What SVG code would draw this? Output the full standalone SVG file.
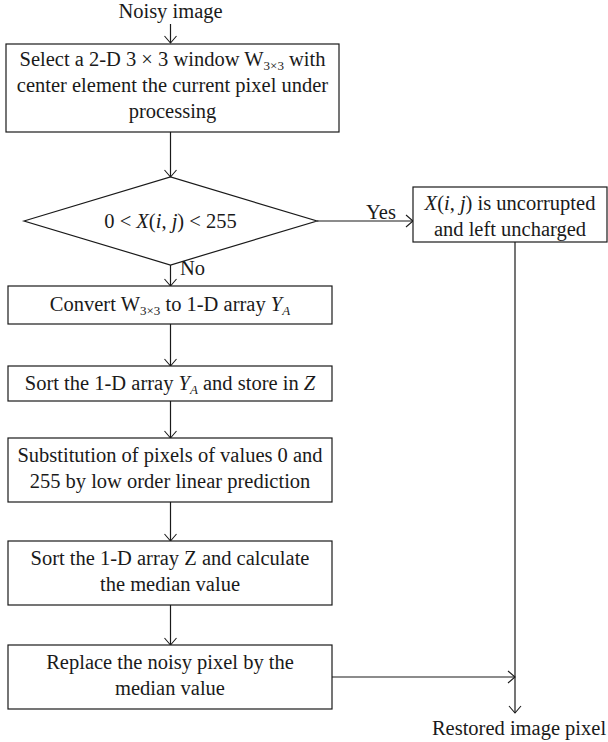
<svg xmlns="http://www.w3.org/2000/svg" width="608" height="742" viewBox="0 0 608 742">
<style>
text{font-family:"Liberation Serif","Times New Roman",serif;font-size:20.5px;fill:#1a1a1a;text-anchor:middle}
.i{font-style:italic}
.s{font-size:13px}
.box{fill:#fff;stroke:#1a1a1a;stroke-width:1.2}
.c{fill:none;stroke:#1a1a1a;stroke-width:1.2}
</style>
<defs>
<marker id="ah" markerUnits="userSpaceOnUse" markerWidth="10" markerHeight="14" viewBox="-8 -7 9 14" refX="0" refY="0" orient="auto">
<path d="M-7,-6 L0,0 L-7,6" fill="none" stroke="#1a1a1a" stroke-width="1.1"/>
</marker>
</defs>
<rect width="608" height="742" fill="#fff"/>
<g id="connectors">
<line class="c" x1="170.5" y1="24" x2="170.5" y2="43" marker-end="url(#ah)"/>
<line class="c" x1="170.5" y1="132" x2="170.5" y2="177" marker-end="url(#ah)"/>
<line class="c" x1="317" y1="221" x2="413" y2="221" marker-end="url(#ah)"/>
<line class="c" x1="170.5" y1="265" x2="170.5" y2="286" marker-end="url(#ah)"/>
<line class="c" x1="170.5" y1="324" x2="170.5" y2="366" marker-end="url(#ah)"/>
<line class="c" x1="170.5" y1="401" x2="170.5" y2="438" marker-end="url(#ah)"/>
<line class="c" x1="170.5" y1="502" x2="170.5" y2="541" marker-end="url(#ah)"/>
<line class="c" x1="170.5" y1="605" x2="170.5" y2="645" marker-end="url(#ah)"/>
<line class="c" x1="332" y1="677" x2="515" y2="677" marker-end="url(#ah)"/>
<line class="c" x1="515" y1="242" x2="515" y2="713" marker-end="url(#ah)"/>
<text x="381" y="219">Yes</text>
<text x="180" y="275" style="text-anchor:start">No</text>
</g>
<g id="input"><text x="170.5" y="18">Noisy image</text></g>
<g id="select">
<rect class="box" x="6" y="44" width="333" height="88"/>
<text x="172.5" y="66">Select a 2-D 3 × 3 window W<tspan class="s" dy="4">3×3</tspan><tspan dy="-4"> with</tspan></text>
<text x="172.5" y="92">center element the current pixel under</text>
<text x="172.5" y="118">processing</text>
</g>
<g id="decision">
<polygon class="box" points="24,221 170.5,177 317,221 170.5,265"/>
<text x="170.5" y="228">0 &lt; <tspan class="i">X</tspan>(<tspan class="i">i</tspan>, <tspan class="i">j</tspan>) &lt; 255</text>
</g>
<g id="uncorrupted">
<rect class="box" x="413" y="187" width="194" height="55"/>
<text x="510" y="210"><tspan class="i">X</tspan>(<tspan class="i">i</tspan>, <tspan class="i">j</tspan>) is uncorrupted</text>
<text x="510" y="236">and left uncharged</text>
</g>
<g id="convert">
<rect class="box" x="8" y="286" width="324" height="38"/>
<text x="170" y="311">Convert W<tspan class="s" dy="4">3×3</tspan><tspan dy="-4"> to 1-D array </tspan><tspan class="i">Y</tspan><tspan class="i s" dy="4">A</tspan></text>
</g>
<g id="sort1">
<rect class="box" x="8" y="366" width="324" height="35"/>
<text x="170" y="390">Sort the 1-D array <tspan class="i">Y</tspan><tspan class="i s" dy="4">A</tspan><tspan dy="-4"> and store in </tspan><tspan class="i">Z</tspan></text>
</g>
<g id="substitute">
<rect class="box" x="8" y="438" width="324" height="64"/>
<text x="170" y="462">Substitution of pixels of values 0 and</text>
<text x="170" y="488">255 by low order linear prediction</text>
</g>
<g id="sort2">
<rect class="box" x="8" y="541" width="324" height="64"/>
<text x="170" y="565">Sort the 1-D array Z and calculate</text>
<text x="170" y="591">the median value</text>
</g>
<g id="replace">
<rect class="box" x="8" y="645" width="324" height="64"/>
<text x="170" y="669">Replace the noisy pixel by the</text>
<text x="170" y="695">median value</text>
</g>
<g id="output"><text x="519" y="735">Restored image pixel</text></g>
</svg>
